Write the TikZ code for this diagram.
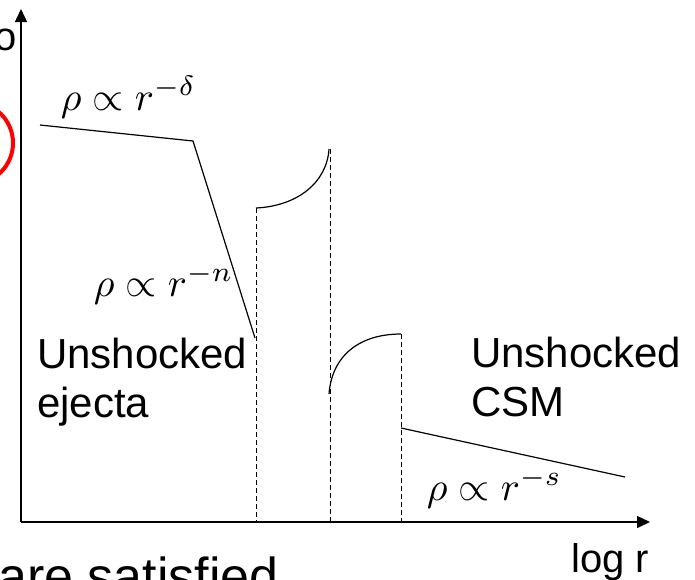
\documentclass[tikz,border=0pt]{standalone}
\usepackage{fontspec}
\setmainfont{Liberation Sans}
\usetikzlibrary{arrows.meta}
\begin{document}
\begin{tikzpicture}[x=1pt,y=-1pt,
  axis/.style={line width=1.4pt,-{Triangle[length=13pt,width=12pt]}},
  curve/.style={line width=1.2pt},
  guide/.style={line width=1pt,dash pattern=on 5pt off 3pt},
  lbl/.style={inner sep=0pt,font=\fontsize{42}{49}\selectfont,align=left},
  mlbl/.style={inner sep=0pt,font=\fontsize{10}{12}\selectfont,scale=4,transform shape},
  redring/.style={draw=red,line width=4pt},
]
\useasboundingbox (0,0) rectangle (695,579);
% axes
\coordinate (O) at (21,522);
\coordinate (ytip) at (21,9);
\coordinate (xtip) at (650,522);
\draw[axis] (O) -- (ytip);
\draw[axis] (O) -- (xtip);
% red ring
\coordinate (rc) at (-28,143);
\draw[redring] (rc) circle[radius=41pt];
% ejecta profile
\coordinate (a) at (40,125);
\coordinate (b) at (193,141);
\coordinate (c) at (255,338);
\draw[curve] (a) -- (b) -- (c);
% shocked regions
\coordinate (d1t) at (256,208);
\coordinate (d1b) at (256,522);
\coordinate (d2t) at (330,149);
\coordinate (d2b) at (330,522);
\coordinate (d3t) at (401,334);
\coordinate (d3b) at (401,522);
\draw[guide] (d1t) -- (d1b);
\draw[guide] (d2t) -- (d2b);
\draw[guide] (d3t) -- (d3b);
\coordinate (c1e) at (329,149);
\draw[curve] (d1t) .. controls (298,206) and (327,182) .. (c1e);
\coordinate (c2s) at (329,394);
\draw[curve] (c2s) .. controls (332,355) and (360,334) .. (d3t);
% CSM profile
\coordinate (e) at (401,428);
\coordinate (f) at (625,477);
\draw[curve] (e) -- (f);
% labels
\node[mlbl,anchor=base west] (ld) at (60,110) {$\rho\propto r^{-\delta}$};
\node[mlbl,anchor=base west] (ln) at (93,296) {$\rho\propto r^{-n}$};
\node[mlbl,anchor=base west] (ls) at (426,500) {$\rho\propto r^{-s}$};
\node[lbl,anchor=base west] (ej) at (37,417) {Unshocked\\ejecta};
\node[lbl,anchor=base west] (csm) at (471,416) {Unshocked\\CSM};
\node[inner sep=0pt,font=\fontsize{40}{48}\selectfont,anchor=base west] (xl) at (571,572) {log r};
\node[inner sep=0pt,font=\fontsize{40}{48}\selectfont,anchor=base east] (yl) at (17,50) {o};
\node[inner sep=0pt,font=\fontsize{52}{60}\selectfont,anchor=base west] (bt) at (-2,594) {are satisfied};
\end{tikzpicture}
\end{document}
